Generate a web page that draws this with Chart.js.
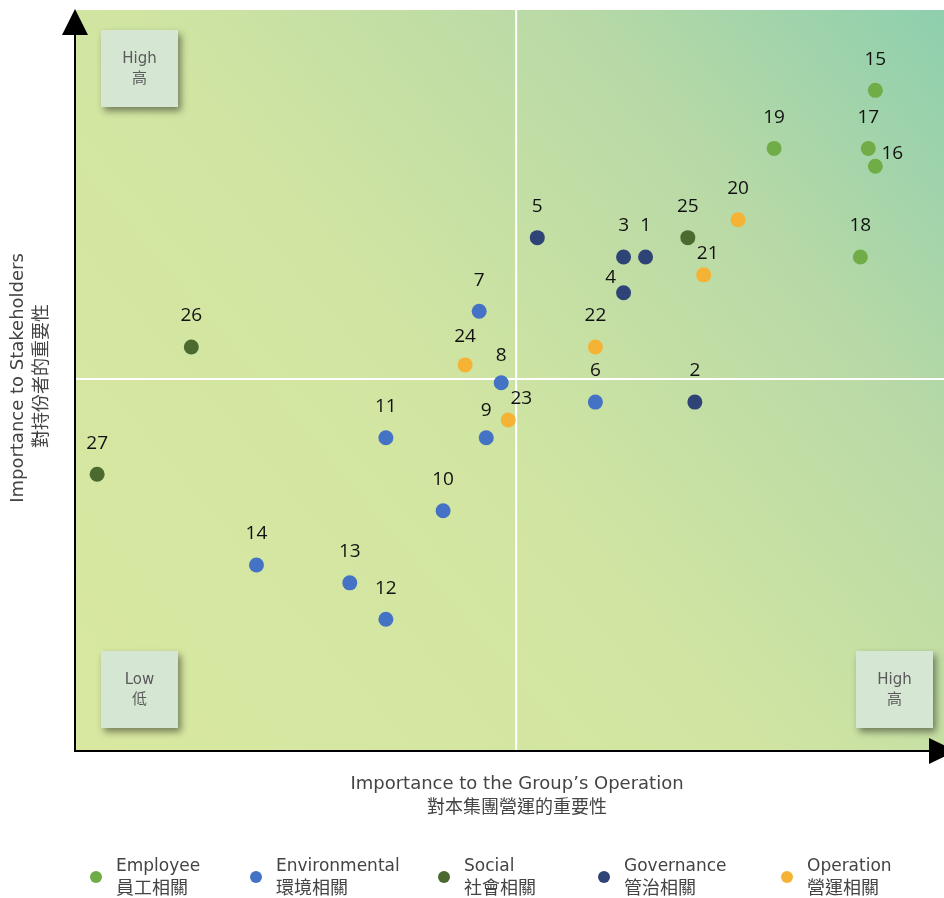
<!DOCTYPE html>
<html>
<head>
<meta charset="utf-8">
<script src="https://cdn.jsdelivr.net/npm/chart.js@4.4.1/dist/chart.umd.min.js"></script>
<style>
  html, body { margin: 0; padding: 0; background: #fff; }
  canvas { display: block; }
</style>
</head>
<body>
<canvas id="matrix" width="944" height="898"></canvas>
<script>
// --- data ---
const groupNames = ['Employee', 'Environmental', 'Social', 'Governance', 'Operation'];
const groupNamesZh = ['員工相關', '環境相關', '社會相關', '管治相關', '營運相關'];
const groupColors = ['#70ad47', '#4472c4', '#4a6a2f', '#2f4476', '#f5b335'];

const issueIds = [1, 2, 3, 4, 5, 6, 7, 8, 9, 10, 11, 12, 13, 14, 15, 16, 17, 18, 19, 20, 21, 22, 23, 24, 25, 26, 27];
// importance to the group's operation
const operationScore = [64.7, 70.3, 62.2, 62.2, 52.4, 59.0, 45.8, 48.3, 46.6, 41.7, 35.2, 35.2, 31.1, 20.5,
  90.8, 90.8, 90.0, 89.1, 79.3, 75.2, 71.3, 59.0, 49.1, 44.2, 69.5, 13.1, 2.4];
// importance to stakeholders
const stakeholderScore = [66.4, 46.9, 66.4, 61.6, 69.0, 46.9, 59.1, 49.5, 42.1, 32.3, 42.1, 17.7, 22.6, 25.0,
  88.8, 78.6, 81.0, 66.4, 81.0, 71.4, 64.0, 54.3, 44.5, 51.9, 69.0, 54.3, 37.2];
// 0 Employee, 1 Environmental, 2 Social, 3 Governance, 4 Operation
const issueGroup = [3, 3, 3, 3, 3, 1, 1, 1, 1, 1, 1, 1, 1, 1,
  0, 0, 0, 0, 0, 4, 4, 4, 4, 4, 2, 2, 2];

const xMax = 98.6, yMax = 99.6, midValue = 50;

const datasets = groupNames.map((name, g) => ({
  label: name,
  data: issueIds
    .map((id, i) => ({ x: operationScore[i], y: stakeholderScore[i], id: id, g: issueGroup[i] }))
    .filter(p => p.g === g),
  backgroundColor: groupColors[g],
  borderWidth: 0,
  pointRadius: 7.5,
  pointHoverRadius: 7.5
}));

const LATIN = '"DejaVu Sans", "Noto Sans", sans-serif';
const CJK = '"Noto Sans CJK TC", "Noto Sans CJK SC", sans-serif';

// where a number label sits relative to its dot, when not straight above
const labelNudge = { 4: [-13, -15], 16: [17, -13], 21: [4, -21], 23: [13, -21], 8: [0, -27], 9: [0, -27], 24: [0, -28] };

function drawBox(ctx, x, y, w, h, en, zh) {
  ctx.save();
  ctx.shadowColor = 'rgba(0,0,0,0.45)';
  ctx.shadowBlur = 7;
  ctx.shadowOffsetX = 3;
  ctx.shadowOffsetY = 4;
  ctx.fillStyle = '#d5e7d3';
  ctx.fillRect(x, y, w, h);
  ctx.restore();
  ctx.save();
  ctx.fillStyle = '#5a5a5a';
  ctx.textAlign = 'center';
  ctx.textBaseline = 'middle';
  ctx.font = '15px ' + LATIN;
  ctx.fillText(en, x + w / 2, y + h / 2 - 9);
  ctx.font = '15px ' + CJK;
  ctx.fillText(zh, x + w / 2, y + h / 2 + 9);
  ctx.restore();
}

const backdrop = {
  id: 'backdrop',
  beforeDatasetsDraw(chart) {
    const { ctx, chartArea: a, scales } = chart;
    ctx.save();
    const grad = ctx.createLinearGradient(a.left, a.bottom, a.right, a.top);
    grad.addColorStop(0, '#d8e8a0');
    grad.addColorStop(0.45, '#d1e5a2');
    grad.addColorStop(0.75, '#b8d9a6');
    grad.addColorStop(1, '#8ecfae');
    ctx.fillStyle = grad;
    ctx.fillRect(a.left, a.top, a.right - a.left, a.bottom - a.top);
    // quadrant lines
    const mx = scales.x.getPixelForValue(midValue);
    const my = scales.y.getPixelForValue(midValue);
    ctx.strokeStyle = '#ffffff';
    ctx.lineWidth = 2;
    ctx.beginPath();
    ctx.moveTo(mx, a.top); ctx.lineTo(mx, a.bottom);
    ctx.moveTo(a.left, my); ctx.lineTo(a.right, my);
    ctx.stroke();
    ctx.restore();
  }
};

const overlay = {
  id: 'overlay',
  afterDatasetsDraw(chart) {
    const { ctx, chartArea: a } = chart;
    ctx.save();
    // quadrant marker boxes
    drawBox(ctx, 101, 30, 77, 77, 'High', '高');
    drawBox(ctx, 101, 651, 77, 77, 'Low', '低');
    drawBox(ctx, 856, 651, 77, 77, 'High', '高');

    // issue numbers
    ctx.fillStyle = '#111';
    ctx.font = '19px "Open Sans", sans-serif';
    ctx.textAlign = 'center';
    ctx.textBaseline = 'middle';
    chart.data.datasets.forEach((ds, di) => {
      const meta = chart.getDatasetMeta(di);
      ds.data.forEach((p, j) => {
        const el = meta.data[j];
        const [dx, dy] = labelNudge[p.id] || [0, -31];
        ctx.fillText(String(p.id), el.x + dx, el.y + dy);
      });
    });

    // axes with arrows
    ctx.fillStyle = '#000';
    ctx.strokeStyle = '#000';
    ctx.lineWidth = 2;
    ctx.beginPath();
    ctx.moveTo(75, a.bottom); ctx.lineTo(75, 30);
    ctx.moveTo(74, a.bottom); ctx.lineTo(932, a.bottom);
    ctx.stroke();
    ctx.beginPath();
    ctx.moveTo(62, 35); ctx.lineTo(88, 35); ctx.lineTo(75, 9); ctx.closePath();
    ctx.fill();
    ctx.beginPath();
    ctx.moveTo(929, a.bottom - 13); ctx.lineTo(929, a.bottom + 13); ctx.lineTo(956, a.bottom); ctx.closePath();
    ctx.fill();

    // axis titles
    ctx.fillStyle = '#444';
    ctx.textAlign = 'center';
    ctx.textBaseline = 'middle';
    ctx.font = '18px ' + LATIN;
    ctx.fillText('Importance to the Group\u2019s Operation', 517, 784);
    ctx.font = '18px ' + CJK;
    ctx.fillText('對本集團營運的重要性', 517, 806);

    ctx.save();
    ctx.translate(18, 378);
    ctx.rotate(-Math.PI / 2);
    ctx.font = '18px ' + LATIN;
    ctx.fillText('Importance to Stakeholders', 0, 0);
    ctx.restore();
    ctx.save();
    ctx.translate(40, 376);
    ctx.rotate(-Math.PI / 2);
    ctx.font = '18px ' + CJK;
    ctx.fillText('對持份者的重要性', 0, 0);
    ctx.restore();

    // legend
    const legendX = [96, 256, 444, 604, 787];
    groupNames.forEach((name, g) => {
      ctx.fillStyle = groupColors[g];
      ctx.beginPath();
      ctx.arc(legendX[g], 877, 6, 0, Math.PI * 2);
      ctx.fill();
      ctx.fillStyle = '#444';
      ctx.textAlign = 'left';
      ctx.font = '17px ' + LATIN;
      ctx.fillText(name, legendX[g] + 20, 867);
      ctx.font = '18px ' + CJK;
      ctx.fillText(groupNamesZh[g], legendX[g] + 20, 887);
    });
    ctx.restore();
  }
};

new Chart(document.getElementById('matrix'), {
  type: 'scatter',
  data: { datasets: datasets },
  options: {
    responsive: false,
    animation: false,
    layout: { autoPadding: false, padding: { left: 76, top: 10, right: 0, bottom: 147 } },
    scales: {
      x: { display: false, min: 0, max: xMax },
      y: { display: false, min: 0, max: yMax }
    },
    plugins: { legend: { display: false }, tooltip: { enabled: false } }
  },
  plugins: [backdrop, overlay]
});
</script>
</body>
</html>
